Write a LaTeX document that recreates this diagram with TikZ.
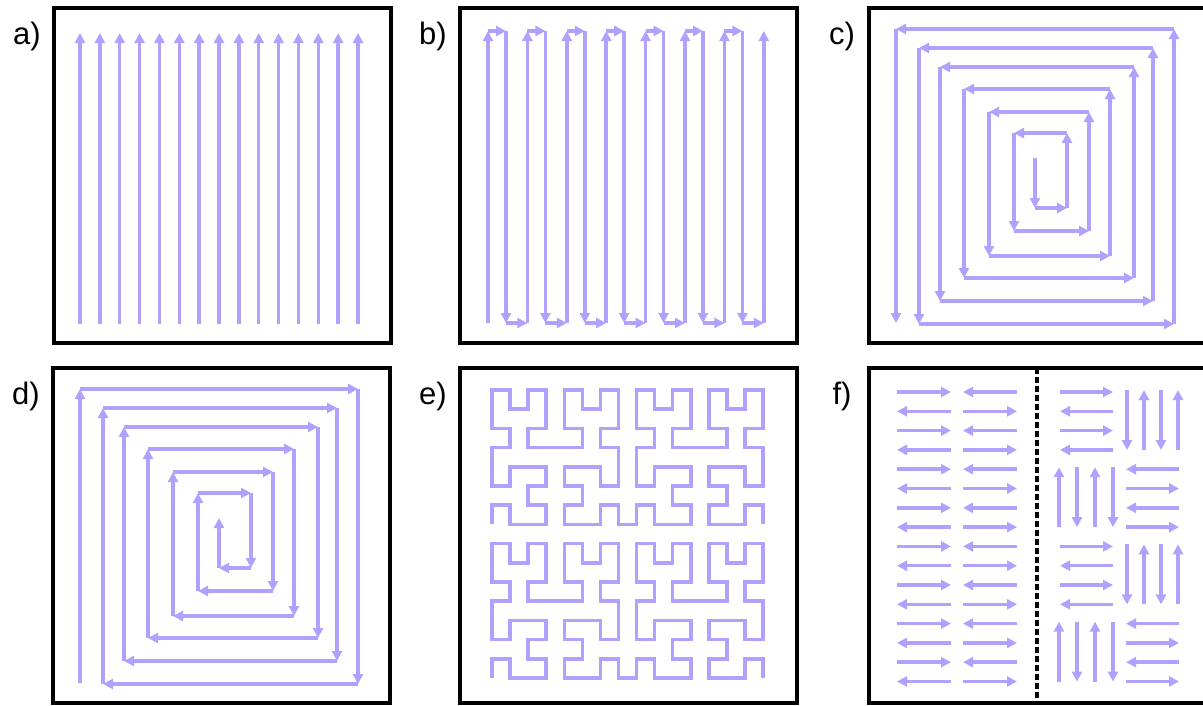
\documentclass[tikz,border=0pt]{standalone}
\usepackage{fontspec}
\setmainfont{Liberation Sans}
\usetikzlibrary{arrows.meta}

\definecolor{scanpurple}{RGB}{178,160,255}

% corner points of the square spiral (panel-local, y downwards)
\newcommand{\spiralpts}{27/21, 305/21, 305/316, 50/316, 50/40, 284/40, 284/293,
  71/293, 71/59, 265/59, 265/270, 95/270, 95/81, 241/81, 241/248, 120/248,
  120/104, 220/104, 220/223, 145/223, 145/125, 198/125, 198/200, 166/200, 166/150}
% order-3 Hilbert curve, (0,0) to (7,0), y upwards
\newcommand{\hilbertpts}{0/0,0/1,1/1,1/0,2/0,3/0,3/1,2/1,2/2,3/2,3/3,2/3,1/3,1/2,0/2,0/3,
  0/4,1/4,1/5,0/5,0/6,0/7,1/7,1/6,2/6,2/7,3/7,3/6,3/5,2/5,2/4,3/4,
  4/4,5/4,5/5,4/5,4/6,4/7,5/7,5/6,6/6,6/7,7/7,7/6,7/5,6/5,6/4,7/4,
  7/3,7/2,6/2,6/3,5/3,4/3,4/2,5/2,5/1,4/1,4/0,5/0,6/0,6/1,7/1,7/0}

\begin{document}
\begin{tikzpicture}[x=1pt, y=-1pt,
		panel/.style={draw=black, line width=3.2pt},
		scan/.style={draw=scanpurple, line width=3.5pt, -{Triangle[length=10pt,width=10pt]}},
		scanrev/.style={draw=scanpurple, line width=3.5pt, {Triangle[length=10pt,width=10pt]}-},
		curve/.style={draw=scanpurple, line width=3.5pt},
		panellabel/.style={inner sep=0pt, font=\fontsize{31}{36}\selectfont}]
	\useasboundingbox (0,0) rectangle (1203,705);
	\clip (0,0) rectangle (1203,705);

	% a) parallel strokes
	\begin{scope}[shift={(54,8)}]
		\draw [panel] (0,0) rectangle (337,335);
		\node [panellabel] (la) at (-27,28) {a)};
		\foreach \i in {0,...,14}
			\draw [scan] (26+19.86*\i,316) -- (26+19.86*\i,25);
	\end{scope}

	% b) meander
	\begin{scope}[shift={(460,8)}]
		\draw [panel] (0,0) rectangle (337,335);
		\node [panellabel] (lb) at (-27,28) {b)};
		\foreach \k in {0,...,6} {
			\pgfmathsetmacro\xu{28+39.4*\k}
			\pgfmathsetmacro\xd{\xu+18}
			\pgfmathsetmacro\xn{\xu+39.4}
			\draw [scan] (\xu,315) -- (\xu,23);
			\draw [scan] (\xu,23) -- (\xd,23);
			\draw [scan] (\xd,23) -- (\xd,315);
			\draw [scan] (\xd,315) -- (\xn,315);
		}
		\draw [scan] (303.8,315) -- (303.8,23);
	\end{scope}

	% c) spiral, inside out
	\begin{scope}[shift={(869,8)}]
		\draw [panel] (0,0) rectangle (337,335);
		\node [panellabel] (lc) at (-27,28) {c)};
		\foreach \x/\y [remember=\x as \px (initially 27), remember=\y as \py (initially 315)] in \spiralpts
			\draw [scanrev] (\px,\py) -- (\x,\y);
	\end{scope}

	% d) spiral, outside in
	\begin{scope}[shift={(53,368)}]
		\draw [panel] (0,0) rectangle (337,335);
		\node [panellabel] (ld) at (-27,28) {d)};
		\foreach \x/\y [remember=\x as \px (initially 27), remember=\y as \py (initially 315)] in \spiralpts
			\draw [scan] (\px,\py) -- (\x,\y);
	\end{scope}

	% e) Hilbert curves
	\begin{scope}[shift={(460,368)}]
		\draw [panel] (0,0) rectangle (337,335);
		\node [panellabel] (le) at (-27,28) {e)};
		\begin{scope}[shift={(32,310)}, x=18.07pt, y=19.2pt]
			\foreach \row in {0,8}
				\draw [curve] (0,\row) \foreach \x/\y in \hilbertpts {-- (\x,\y+\row)}
					\foreach \x/\y in \hilbertpts {-- (\x+8,\y+\row)};
		\end{scope}
	\end{scope}

	% f) stripes and chessboard islands
	\begin{scope}[shift={(869,368)}]
		\draw [panel] (0,0) rectangle (337,335);
		\node [panellabel] (lf) at (-27,28) {f)};
		\draw [line width=3.5pt, dash pattern=on 6pt off 3pt] (168,0) -- (168,335);
		\foreach \r in {0,2,...,14} {
			\pgfmathsetmacro\ya{24+19.3*\r}
			\pgfmathsetmacro\yb{\ya+19.3}
			\draw [scan] (28,\ya) -- (82,\ya);
			\draw [scan] (148,\ya) -- (94,\ya);
			\draw [scan] (82,\yb) -- (28,\yb);
			\draw [scan] (94,\yb) -- (148,\yb);
		}
		\foreach \j in {0,2} {
			\pgfmathsetmacro\yt{22+77.2*\j}
			\pgfmathsetmacro\ybt{\yt+60}
			\foreach \m in {0,2} {
				\pgfmathsetmacro\ya{24+19.3*(4*\j+\m)}
				\pgfmathsetmacro\yb{\ya+19.3}
				\draw [scan] (191,\ya) -- (244,\ya);
				\draw [scan] (244,\yb) -- (191,\yb);
			}
			\draw [scan] (258,\yt) -- (258,\ybt);
			\draw [scan] (275,\ybt) -- (275,\yt);
			\draw [scan] (292,\yt) -- (292,\ybt);
			\draw [scan] (309,\ybt) -- (309,\yt);
		}
		\foreach \j in {1,3} {
			\pgfmathsetmacro\yt{22+77.2*\j}
			\pgfmathsetmacro\ybt{\yt+60}
			\draw [scan] (190,\ybt) -- (190,\yt);
			\draw [scan] (208,\yt) -- (208,\ybt);
			\draw [scan] (226,\ybt) -- (226,\yt);
			\draw [scan] (244,\yt) -- (244,\ybt);
			\foreach \m in {0,2} {
				\pgfmathsetmacro\ya{24+19.3*(4*\j+\m)}
				\pgfmathsetmacro\yb{\ya+19.3}
				\draw [scan] (310,\ya) -- (257,\ya);
				\draw [scan] (257,\yb) -- (310,\yb);
			}
		}
	\end{scope}
\end{tikzpicture}
\end{document}
